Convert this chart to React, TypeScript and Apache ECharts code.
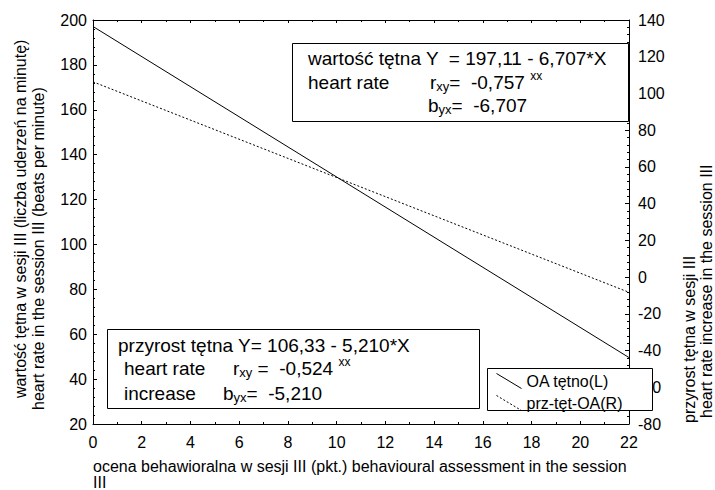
import React, { useEffect, useRef } from 'react';
import * as echarts from 'echarts';

// ---- data ----
const xEnds = [0, 22];
const oaHeartRate = [197.11, 49.6]; // left axis, solid
const heartRateIncrease = [106.33, -8.3]; // right axis, dotted
const seriesNames = ['OA tętno(L)', 'prz-tęt-OA(R)'];
const xRange = [0, 22];
const leftRange = [20, 200];
const rightRange = [-80, 140];
const xStep = 2;
const yStep = 20;

const xTitle = 'ocena behawioralna w sesji III (pkt.) behavioural assessment in the session\nIII';
const leftTitle = ['wartość tętna w sesji III (liczba uderzeń na minutę)', 'heart rate in the session III (beats per minute)'];
const rightTitle = ['przyrost tętna w sesji III', 'heart rate increase in the session III'];
const upperBox = ['wartość tętna Y  = 197,11 - 6,707*X', 'heart rate', 'r{sub|xy}=  -0,757 {sup|xx}', 'b{sub|yx}=  -6,707'];
const lowerBox = ['przyrost tętna Y= 106,33 - 5,210*X', 'heart rate', 'r{sub|xy} =  -0,524 {sup|xx}', 'increase', 'b{sub|yx}=  -5,210'];

const FONT = '"Liberation Sans", Arial, sans-serif';

const rich = {
  sub: { fontSize: 13, fontFamily: FONT, fill: '#000', color: '#000', verticalAlign: 'bottom' },
  sup: { fontSize: 12, fontFamily: FONT, fill: '#000', color: '#000', verticalAlign: 'top', height: 10 },
};

function boxText(text: string, x: number, y: number) {
  return {
    type: 'text',
    x,
    y,
    z: 6,
    style: {
      text,
      fontSize: 19,
      fontFamily: FONT,
      fill: '#000',
      lineHeight: 22,
      align: 'left',
      textAlign: 'left',
      verticalAlign: 'middle',
      textVerticalAlign: 'middle',
      rich,
    },
  };
}

function vText(text: string, x: number, y: number) {
  return {
    type: 'text',
    x,
    y,
    rotation: Math.PI / 2,
    style: {
      text,
      fontSize: 16,
      fontFamily: FONT,
      fill: '#000',
      align: 'left',
      textAlign: 'left',
      verticalAlign: 'middle',
      textVerticalAlign: 'middle',
    },
  };
}

export default function App() {
  const ref = useRef<HTMLDivElement>(null);
  useEffect(() => {
    if (!ref.current) return;
    const chart = echarts.init(ref.current, undefined, { renderer: 'svg' });
    const axisCommon = {
      type: 'value',
      axisLine: { show: true, onZero: false, lineStyle: { color: '#000', width: 1 } },
      splitLine: { show: false },
      axisLabel: { color: '#000', fontSize: 16, fontFamily: FONT },
    };
    chart.setOption({
      animation: false,
      backgroundColor: '#fff',
      grid: { left: 93, right: 86, top: 20, bottom: 66, containLabel: false },
      xAxis: [
        {
          ...axisCommon,
          position: 'bottom',
          min: xRange[0],
          max: xRange[1],
          interval: xStep,
          axisTick: { show: true, inside: true, length: 3, lineStyle: { color: '#000' } },
          minorTick: { show: true, splitNumber: 2, length: 2, lineStyle: { color: '#000' } },
          axisLabel: { ...axisCommon.axisLabel, margin: 10 },
        },
        {
          ...axisCommon,
          position: 'top',
          min: xRange[0],
          max: xRange[1],
          interval: xStep,
          axisTick: { show: true, inside: true, length: 3, lineStyle: { color: '#000' } },
          minorTick: { show: true, splitNumber: 2, length: 2, lineStyle: { color: '#000' } },
          axisLabel: { show: false },
        },
      ],
      yAxis: [
        {
          ...axisCommon,
          position: 'left',
          min: leftRange[0],
          max: leftRange[1],
          interval: yStep,
          axisTick: { show: true, inside: true, length: 4, lineStyle: { color: '#000' } },
          minorTick: { show: true, splitNumber: 5, length: 2, lineStyle: { color: '#000' } },
          axisLabel: { ...axisCommon.axisLabel, margin: 6 },
        },
        {
          ...axisCommon,
          position: 'right',
          min: rightRange[0],
          max: rightRange[1],
          interval: yStep,
          axisTick: { show: true, inside: true, length: 4, lineStyle: { color: '#000' } },
          minorTick: { show: true, splitNumber: 5, length: 2, lineStyle: { color: '#000' } },
          axisLabel: { ...axisCommon.axisLabel, margin: 9 },
        },
      ],
      legend: {
        orient: 'vertical',
        left: 494,
        top: 371,
        padding: 0,
        z: 8,
        itemWidth: 25,
        itemHeight: 15,
        itemGap: 2,
        selectedMode: false,
        icon: 'path://M0,0L25,15',
        itemStyle: { color: 'none', borderColor: '#000', borderWidth: 1 },
        textStyle: { fontSize: 16, color: '#000', fontFamily: FONT },
        data: [
          { name: seriesNames[0] },
          { name: seriesNames[1], itemStyle: { borderType: [2, 2] } },
        ],
      },
      series: [
        {
          name: seriesNames[0],
          type: 'line',
          xAxisIndex: 0,
          yAxisIndex: 0,
          symbol: 'none',
          data: xEnds.map((x, i) => [x, oaHeartRate[i]]),
          lineStyle: { color: '#000', width: 1, type: 'solid' },
          itemStyle: { color: '#000' },
        },
        {
          name: seriesNames[1],
          type: 'line',
          xAxisIndex: 0,
          yAxisIndex: 1,
          symbol: 'none',
          data: xEnds.map((x, i) => [x, heartRateIncrease[i]]),
          lineStyle: { color: '#000', width: 1, type: [2, 2] },
          itemStyle: { color: '#000' },
        },
      ],
      graphic: [
        // axis titles
        {
          type: 'text',
          x: 93,
          y: 458,
          style: {
            text: xTitle,
            fontSize: 16,
            fontFamily: FONT,
            fill: '#000',
            lineHeight: 16,
            align: 'left',
            textAlign: 'left',
            verticalAlign: 'top',
            textVerticalAlign: 'top',
          },
        },
        vText(leftTitle[0], 20, 398),
        vText(leftTitle[1], 38, 410),
        vText(rightTitle[0], 689, 423),
        vText(rightTitle[1], 706, 418),
        // legend frame (covers the axis labels behind it)
        {
          type: 'rect',
          z: 5,
          shape: { x: 487.5, y: 368.5, width: 165, height: 42 },
          style: { fill: '#fff', stroke: '#000', lineWidth: 1 },
        },
        // upper equation box
        {
          type: 'rect',
          z: 5,
          shape: { x: 292.5, y: 43.5, width: 336, height: 78 },
          style: { fill: '#fff', stroke: '#000', lineWidth: 1 },
        },
        boxText(upperBox[0], 308, 58),
        boxText(upperBox[1], 308, 82),
        boxText(upperBox[2], 430, 82),
        boxText(upperBox[3], 428, 105),
        // lower equation box
        {
          type: 'rect',
          z: 5,
          shape: { x: 107.5, y: 329.5, width: 372, height: 79 },
          style: { fill: '#fff', stroke: '#000', lineWidth: 1 },
        },
        boxText(lowerBox[0], 118, 345),
        boxText(lowerBox[1], 124, 368),
        boxText(lowerBox[2], 233, 368),
        boxText(lowerBox[3], 124, 393),
        boxText(lowerBox[4], 223, 393),
      ],
    });
    return () => chart.dispose();
  }, []);
  return <div ref={ref} style={{ position: 'absolute', left: 0, top: 0, width: 715, height: 490 }} />;
}
